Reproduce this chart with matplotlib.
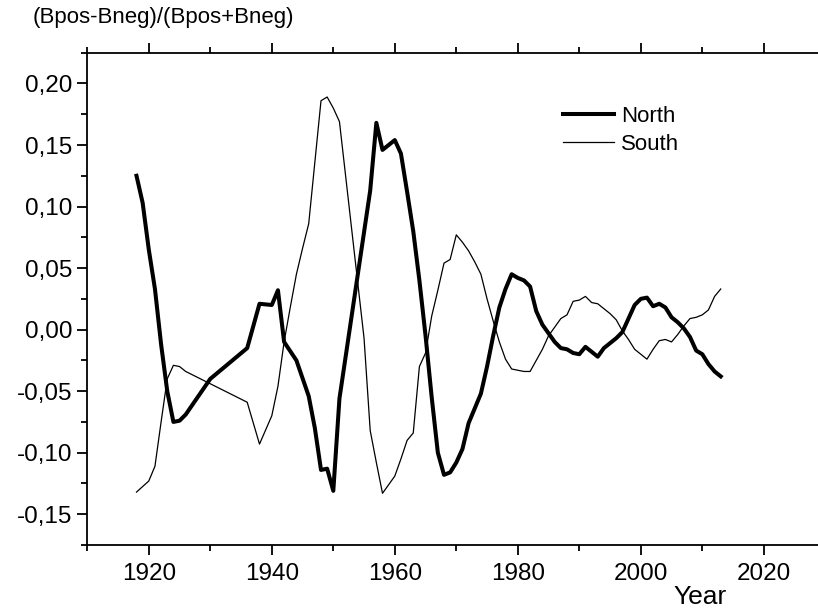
import matplotlib
matplotlib.use('Agg')
import matplotlib.pyplot as plt
from matplotlib.ticker import MultipleLocator, FuncFormatter

plt.rcParams['font.family'] = ['Liberation Sans', 'DejaVu Sans']

# magnetic field asymmetry, annual values
north_years = [1918, 1919, 1920, 1921, 1922, 1923, 1924, 1925, 1926, 1930, 1936, 1938,
               1940, 1941, 1942, 1944, 1946, 1947, 1948, 1949, 1950, 1951, 1956, 1957,
               1958, 1960, 1961, 1962, 1963, 1964, 1965, 1966, 1967, 1968, 1969, 1970,
               1971, 1972, 1973, 1974, 1975, 1976, 1977, 1978, 1979, 1980, 1981, 1982,
               1983, 1984, 1985, 1986, 1987, 1988, 1989, 1990, 1991, 1992, 1993, 1994,
               1995, 1996, 1997, 1998, 1999, 2000, 2001, 2002, 2003, 2004, 2005, 2006,
               2007, 2008, 2009, 2010, 2011, 2012, 2013]
north = [0.125, 0.103, 0.065, 0.033, -0.012, -0.050, -0.075, -0.074, -0.069, -0.040,
         -0.015, 0.021, 0.020, 0.032, -0.010, -0.025, -0.054, -0.080, -0.114, -0.113,
         -0.131, -0.056, 0.113, 0.168, 0.146, 0.154, 0.143, 0.112, 0.080, 0.040,
         -0.005, -0.055, -0.100, -0.118, -0.116, -0.108, -0.097, -0.076, -0.064, -0.052,
         -0.030, -0.005, 0.018, 0.033, 0.045, 0.042, 0.040, 0.035, 0.015, 0.004,
         -0.003, -0.010, -0.015, -0.016, -0.019, -0.020, -0.014, -0.018, -0.022, -0.015,
         -0.011, -0.007, -0.002, 0.009, 0.020, 0.025, 0.026, 0.019, 0.021, 0.018,
         0.010, 0.006, 0.001, -0.006, -0.017, -0.020, -0.028, -0.034, -0.038]

south_years = [1918, 1920, 1921, 1922, 1923, 1924, 1925, 1926, 1936, 1938, 1940, 1941,
               1942, 1943, 1944, 1945, 1946, 1947, 1948, 1949, 1950, 1951, 1952, 1953,
               1954, 1955, 1956, 1957, 1958, 1959, 1960, 1961, 1962, 1963, 1964, 1965,
               1966, 1967, 1968, 1969, 1970, 1971, 1972, 1973, 1974, 1975, 1976, 1977,
               1978, 1979, 1980, 1981, 1982, 1983, 1984, 1985, 1986, 1987, 1988, 1989,
               1990, 1991, 1992, 1993, 1994, 1995, 1996, 1997, 1998, 1999, 2000, 2001,
               2002, 2003, 2004, 2005, 2006, 2007, 2008, 2009, 2010, 2011, 2012, 2013]
south = [-0.132, -0.123, -0.111, -0.075, -0.040, -0.029, -0.030, -0.034, -0.059, -0.093,
         -0.070, -0.046, -0.010, 0.018, 0.045, 0.066, 0.086, 0.136, 0.186, 0.189,
         0.180, 0.169, 0.125, 0.081, 0.037, -0.007, -0.082, -0.108, -0.133, -0.126,
         -0.119, -0.105, -0.090, -0.084, -0.030, -0.019, 0.011, 0.032, 0.054, 0.057,
         0.077, 0.071, 0.064, 0.055, 0.045, 0.025, 0.007, -0.010, -0.024, -0.032,
         -0.033, -0.034, -0.034, -0.025, -0.016, -0.005, 0.002, 0.009, 0.012, 0.023,
         0.024, 0.027, 0.022, 0.021, 0.017, 0.013, 0.008, -0.001, -0.008, -0.016,
         -0.020, -0.024, -0.016, -0.009, -0.008, -0.010, -0.004, 0.003, 0.009, 0.010,
         0.012, 0.016, 0.027, 0.033]

fig = plt.figure(figsize=(8.18, 6.11), dpi=100)
ax = fig.add_axes([87.3 / 818, 66 / 611, 738 / 818, 492.3 / 611])

ax.plot(north_years, north, color='black', lw=2.9, label='North', solid_joinstyle='round')
ax.plot(south_years, south, color='black', lw=0.9, label='South')

ax.set_xlim(1910, 2030)
ax.set_ylim(-0.175, 0.225)

ax.spines['right'].set_visible(False)
for s in ['left', 'top', 'bottom']:
    ax.spines[s].set_linewidth(1.3)

ax.xaxis.set_major_locator(MultipleLocator(20))
ax.xaxis.set_minor_locator(MultipleLocator(10))
ax.yaxis.set_major_locator(MultipleLocator(0.05))
ax.yaxis.set_minor_locator(MultipleLocator(0.025))


def comma_fmt(v, pos):
    if abs(v) < 1e-9:
        v = 0.0
    return f'{v:.2f}'.replace('.', ',').replace('\u2212', '-')


ax.yaxis.set_major_formatter(FuncFormatter(comma_fmt))
ax.tick_params(axis='x', which='both', top=True, bottom=True, direction='out',
               labeltop=False, labelsize=17.5, pad=6)
ax.tick_params(axis='y', which='both', left=True, right=False, direction='out',
               labelsize=17.5, pad=4)
ax.tick_params(which='major', length=7, width=1.3)
ax.tick_params(which='minor', length=4, width=1.3)

ax.legend(loc='upper left', bbox_to_anchor=(563 / 818, 1 - 106 / 611),
          bbox_transform=fig.transFigure, frameon=False, fontsize=16,
          handlelength=2.3, handletextpad=0.3, labelspacing=0.32,
          borderpad=0, borderaxespad=0)

fig.text(33 / 818, 1 - 18 / 611, '(Bpos-Bneg)/(Bpos+Bneg)', fontsize=16,
         ha='left', va='center')
fig.text(700 / 818, 1 - 597 / 611, 'Year', fontsize=19, ha='center', va='center')

fig.savefig('out.png', dpi=100)
